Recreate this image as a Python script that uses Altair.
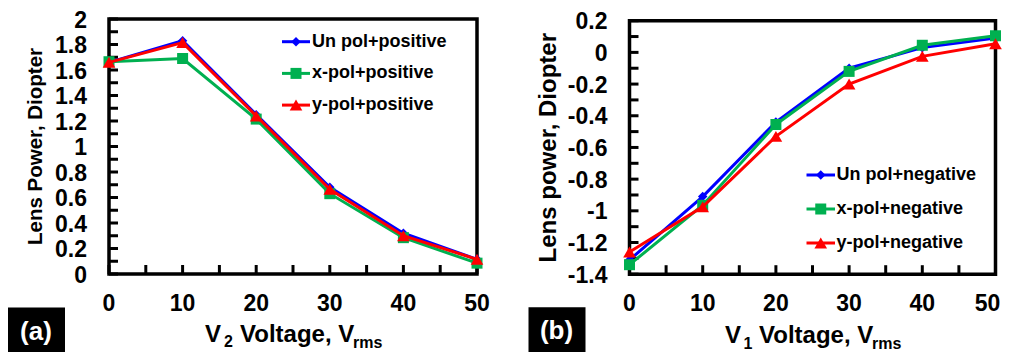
import altair as alt
import pandas as pd

FONT = "Liberation Sans"

voltage = [0, 10, 20, 30, 40, 50]
voltage_labels = ["0", "10", "20", "30", "40", "50"]

pos_names = ["Un pol+positive", "x-pol+positive", "y-pol+positive"]
pos_un = [1.66, 1.83, 1.25, 0.68, 0.32, 0.115]
pos_x = [1.665, 1.69, 1.215, 0.63, 0.285, 0.085]
pos_y = [1.66, 1.815, 1.24, 0.665, 0.30, 0.115]

neg_names = ["Un pol+negative", "x-pol+negative", "y-pol+negative"]
neg_un = [-1.31, -0.91, -0.44, -0.10, 0.03, 0.09]
neg_x = [-1.34, -0.965, -0.455, -0.12, 0.045, 0.105]
neg_y = [-1.26, -0.975, -0.53, -0.20, -0.025, 0.055]

colors = ["#0000FF", "#00B050", "#FF0000"]
shapes = ["diamond", "square", "triangle-up"]
sizes = [90, 121, 160]

xtick_vals = [0, 5, 10, 15, 20, 25, 30, 35, 40, 45, 50]

ylab_a = [0, 0.2, 0.4, 0.6, 0.8, 1, 1.2, 1.4, 1.6, 1.8, 2]
ylab_a_text = ["0", "0.2", "0.4", "0.6", "0.8", "1", "1.2", "1.4", "1.6",
               "1.8", "2"]
ytick_a = [0, 0.1, 0.2, 0.3, 0.4, 0.5, 0.6, 0.7, 0.8, 0.9, 1, 1.1, 1.2, 1.3,
           1.4, 1.5, 1.6, 1.7, 1.8, 1.9, 2]
ylab_b = [-1.4, -1.2, -1, -0.8, -0.6, -0.4, -0.2, 0, 0.2]
ylab_b_text = ["-1.4", "-1.2", "-1", "-0.8", "-0.6", "-0.4", "-0.2", "0",
               "0.2"]
ytick_b = [-1.4, -1.3, -1.2, -1.1, -1, -0.9, -0.8, -0.7, -0.6, -0.5, -0.4,
           -0.3, -0.2, -0.1, 0, 0.1, 0.2]


def one():
    return alt.Data(values=[{}])


def panel(names, series, ydom, ylabs, ylabs_text, yticks, ox, oy, w, h,
          ytitle, ytitle_size, ytitle_dx, ytitle_dy, label, label_dy, vsub,
          xt_base, xt_xs, leg_x0, leg_x1, leg_tx, leg_y0, leg_step,
          last_dx=0):
    rows = []
    for name, vals in zip(names, series):
        for v, p in zip(voltage, vals):
            rows.append({"Voltage": v, "Power": p, "Series": name})
    df = pd.DataFrame(rows)

    xscale = alt.Scale(domain=[0, 50], range=[ox, ox + w], nice=False,
                       zero=False)
    yscale = alt.Scale(domain=ydom, range=[oy + h, oy], nice=False,
                       zero=False)
    xe = alt.X("Voltage:Q", scale=xscale, axis=None)
    ye = alt.Y("Power:Q", scale=yscale, axis=None)

    layers = []
    # plot frame
    layers.append(alt.Chart(one()).mark_rect(filled=False, stroke="black",
                                             strokeWidth=3.5)
                  .encode(x=alt.value(ox), x2=alt.value(ox + w),
                          y=alt.value(oy), y2=alt.value(oy + h)))
    # inward tick marks
    layers.append(alt.Chart(pd.DataFrame({"Voltage": xtick_vals}))
                  .mark_rule(color="black", strokeWidth=3)
                  .encode(x=xe, y=alt.value(oy + h), y2=alt.value(oy + h - 9)))
    layers.append(alt.Chart(pd.DataFrame({"Power": yticks}))
                  .mark_rule(color="black", strokeWidth=3)
                  .encode(y=ye, x=alt.value(ox), x2=alt.value(ox + 9)))

    # series
    for i, name in enumerate(names):
        sub = df[df["Series"] == name]
        layers.append(alt.Chart(sub).mark_line(color=colors[i], strokeWidth=3)
                      .encode(x=xe, y=ye))
        layers.append(alt.Chart(sub).mark_point(shape=shapes[i], size=sizes[i],
                                                filled=True, opacity=1,
                                                color=colors[i])
                      .encode(x=xe, y=ye))

    # tick labels
    xl = pd.DataFrame({"Voltage": voltage, "lab": voltage_labels})
    layers.append(alt.Chart(xl.iloc[:-1])
                  .mark_text(font=FONT, fontSize=23, fontWeight="bold",
                             color="black", align="center", baseline="middle")
                  .encode(x=xe, y=alt.value(oy + h + 29.5), text="lab:N"))
    layers.append(alt.Chart(xl.iloc[-1:])
                  .mark_text(font=FONT, fontSize=23, fontWeight="bold",
                             color="black", align="center", baseline="middle",
                             dx=last_dx)
                  .encode(x=xe, y=alt.value(oy + h + 29.5), text="lab:N"))
    layers.append(alt.Chart(pd.DataFrame({"Power": ylabs, "lab": ylabs_text}))
                  .mark_text(font=FONT, fontSize=23, fontWeight="bold",
                             color="black", align="right", baseline="middle",
                             dy=1.5)
                  .encode(y=ye, x=alt.value(ox - 22), text="lab:N"))

    # legend (one row per series)
    ly = alt.Scale(domain=[0, 2], range=[oy + leg_y0, oy + leg_y0 + 2 * leg_step])
    for i, name in enumerate(names):
        ld = pd.DataFrame({"Series": [name], "row": [i]})
        ye_l = alt.Y("row:Q", scale=ly, axis=None)
        layers.append(alt.Chart(ld).mark_rule(strokeWidth=3, color=colors[i])
                      .encode(x=alt.value(ox + leg_x0), x2=alt.value(ox + leg_x1),
                              y=ye_l))
        layers.append(alt.Chart(ld).mark_point(filled=True, opacity=1,
                                               color=colors[i],
                                               shape=shapes[i], size=sizes[i])
                      .encode(x=alt.value(ox + (leg_x0 + leg_x1) / 2), y=ye_l))
        layers.append(alt.Chart(ld).mark_text(align="left", baseline="middle",
                                              font=FONT, fontSize=18,
                                              fontWeight="bold", color="black")
                      .encode(x=alt.value(ox + leg_tx), y=ye_l,
                              text="Series:N"))

    # panel label box
    lab = pd.DataFrame({"label": [label]})
    layers.append(alt.Chart(lab).mark_rect(color="black")
                  .encode(x=alt.value(ox - 101), x2=alt.value(ox - 44),
                          y=alt.value(oy + label_dy - 24),
                          y2=alt.value(oy + label_dy + 45)))
    layers.append(alt.Chart(lab).mark_text(color="white", font=FONT,
                                           fontSize=26, fontWeight="bold",
                                           align="center", baseline="middle")
                  .encode(x=alt.value(ox - 73), y=alt.value(oy + label_dy),
                          text="label:N"))

    # y title
    layers.append(alt.Chart(one()).mark_text(
        text=ytitle, angle=270, font=FONT, fontSize=ytitle_size,
        fontWeight="bold", color="black", align="center", baseline="middle")
        .encode(x=alt.value(ox + ytitle_dx), y=alt.value(oy + ytitle_dy)))

    # x title with subscripts
    parts = [("V", xt_xs[0], 0, 24), (vsub, xt_xs[1], 5.5, 16),
             ("Voltage, V", xt_xs[2], 0, 24), ("rms", xt_xs[3], 6, 16)]
    for txt, px, dy, fs in parts:
        layers.append(alt.Chart(one()).mark_text(
            text=txt, font=FONT, fontSize=fs, fontWeight="bold",
            color="black", align="left", baseline="alphabetic")
            .encode(x=alt.value(ox + px), y=alt.value(oy + xt_base + dy)))
    return layers


left = panel(pos_names, [pos_un, pos_x, pos_y], [0, 2], ylab_a, ylab_a_text,
             ytick_a, 0, 0, 368, 255, "Lens Power, Diopter", 20.5, -73.5,
             127.5, "(a)", 312.5, "2", 322.7, [96, 115, 131, 244],
             173, 201, 203, 22.7, 31.7)
right = panel(neg_names, [neg_un, neg_x, neg_y], [-1.4, 0.2], ylab_b,
              ylab_b_text, ytick_b, 520.5, 1.7, 366, 253.5,
              "Lens power, Diopter", 24, -80.5, 127, "(b)", 310.5, "1", 322.6,
              [95.5, 114, 129.5, 242.5], 177, 205.5, 207, 154.3, 34,
              last_dx=-8)

chart = (alt.layer(*(left + right))
         .resolve_scale(x="independent", y="independent")
         .properties(width=893, height=333,
                     autosize=alt.AutoSizeParams(type="none"),
                     padding={"left": 101, "top": 11, "right": 0, "bottom": 0})
         .configure_view(strokeWidth=0))

chart.save("out.html", embed_options={"renderer": "svg", "actions": False})
